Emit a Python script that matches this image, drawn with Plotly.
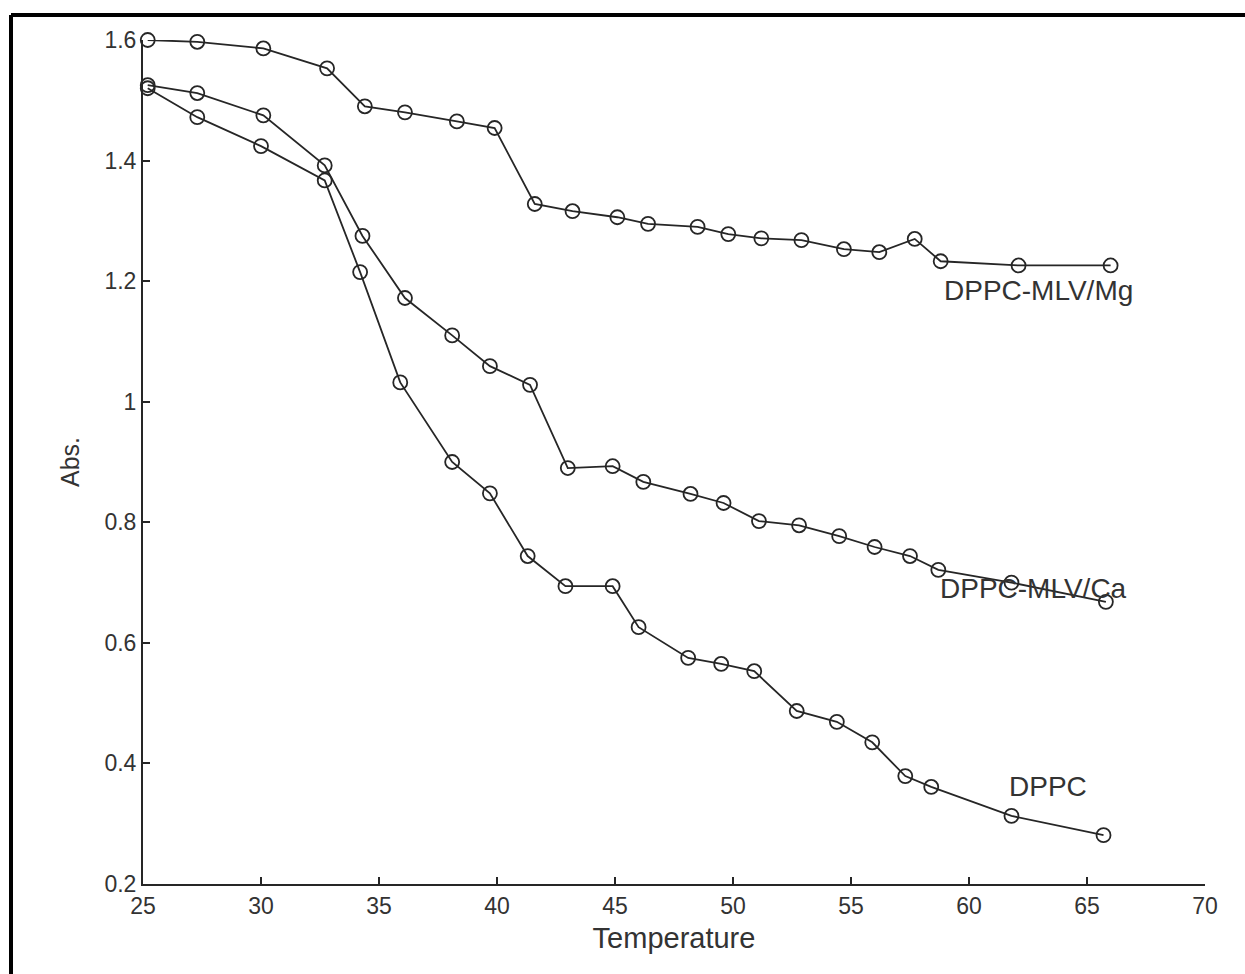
import plotly.graph_objects as go

# Temperature values and absorbance for each series
mg_temp = [25.2, 27.3, 30.1, 32.8, 34.4, 36.1, 38.3, 39.9, 41.6, 43.2, 45.1, 46.4,
           48.5, 49.8, 51.2, 52.9, 54.7, 56.2, 57.7, 58.8, 62.1, 66.0]
mg_abs = [1.600, 1.597, 1.586, 1.553, 1.490, 1.480, 1.465, 1.454, 1.328, 1.316, 1.306, 1.295,
          1.290, 1.278, 1.271, 1.268, 1.253, 1.248, 1.270, 1.233, 1.226, 1.226]

ca_temp = [25.2, 27.3, 30.1, 32.7, 34.3, 36.1, 38.1, 39.7, 41.4, 43.0, 44.9, 46.2,
           48.2, 49.6, 51.1, 52.8, 54.5, 56.0, 57.5, 58.7, 61.8, 65.8]
ca_abs = [1.525, 1.512, 1.475, 1.392, 1.275, 1.172, 1.110, 1.059, 1.028, 0.890, 0.893, 0.867,
          0.847, 0.832, 0.802, 0.795, 0.777, 0.759, 0.744, 0.721, 0.700, 0.668]

dppc_temp = [25.2, 27.3, 30.0, 32.7, 34.2, 35.9, 38.1, 39.7, 41.3, 42.9, 44.9, 46.0,
             48.1, 49.5, 50.9, 52.7, 54.4, 55.9, 57.3, 58.4, 61.8, 65.7]
dppc_abs = [1.520, 1.472, 1.424, 1.367, 1.215, 1.032, 0.900, 0.848, 0.744, 0.694, 0.694, 0.626,
            0.575, 0.565, 0.553, 0.487, 0.469, 0.435, 0.379, 0.361, 0.313, 0.281]

x_ticks = [25, 30, 35, 40, 45, 50, 55, 60, 65, 70]
y_ticks = [0.2, 0.4, 0.6, 0.8, 1.0, 1.2, 1.4, 1.6]
y_tick_text = ["0.2", "0.4", "0.6", "0.8", "1", "1.2", "1.4", "1.6"]

series_labels = ["DPPC-MLV/Mg", "DPPC-MLV/Ca", "DPPC"]
label_pos = [(62.95, 1.185), (62.75, 0.691), (63.35, 0.361)]

INK = "#262626"
TXT = "#333333"
FONT = "Liberation Sans, Arial, sans-serif"

fig = go.Figure()
for name, xs, ys in [(series_labels[0], mg_temp, mg_abs),
                     (series_labels[1], ca_temp, ca_abs),
                     (series_labels[2], dppc_temp, dppc_abs)]:
    fig.add_trace(go.Scatter(
        x=xs, y=ys, mode="lines+markers", name=name,
        line=dict(color=INK, width=1.8),
        marker=dict(symbol="circle-open", size=14, color=INK, line=dict(width=1.8)),
        showlegend=False, cliponaxis=False,
    ))

for text, (lx, ly) in zip(series_labels, label_pos):
    fig.add_annotation(x=lx, y=ly, text=text, showarrow=False,
                       font=dict(family=FONT, size=28, color=TXT),
                       xanchor="center", yanchor="middle")

fig.update_layout(
    width=1245, height=974,
    margin=dict(l=143, r=40, t=40, b=90),
    paper_bgcolor="white", plot_bgcolor="white",
    font=dict(family=FONT, color=TXT, size=22),
    xaxis=dict(
        range=[25, 70], tickvals=x_ticks, showgrid=False, zeroline=False,
        showline=True, linecolor=INK, linewidth=2, ticks="inside", ticklen=7,
        tickcolor=INK, tickwidth=1.5, tickfont=dict(size=23, family=FONT),
        title=dict(text="Temperature", font=dict(size=29, family=FONT), standoff=10),
    ),
    yaxis=dict(
        range=[0.2, 1.6], tickvals=y_ticks, ticktext=y_tick_text, showgrid=False,
        zeroline=False, showline=True, linecolor=INK, linewidth=2, ticks="inside",
        ticklen=7, tickcolor=INK, tickwidth=1.5, tickfont=dict(size=23, family=FONT),
        title=dict(text="Abs.", font=dict(size=25, family=FONT), standoff=18),
    ),
)

# outer frame of the scanned page (left and top edges)
fig.add_shape(type="line", xref="paper", yref="paper",
              x0=(11 - 143) / 1062, x1=(11 - 143) / 1062,
              y0=(884 - 975) / 844, y1=(884 - 15) / 844,
              line=dict(color="black", width=4))
fig.add_shape(type="line", xref="paper", yref="paper",
              x0=(11 - 143) / 1062, x1=(1246 - 143) / 1062,
              y0=(884 - 15) / 844, y1=(884 - 15) / 844,
              line=dict(color="black", width=4))

fig.write_html("out.html")
